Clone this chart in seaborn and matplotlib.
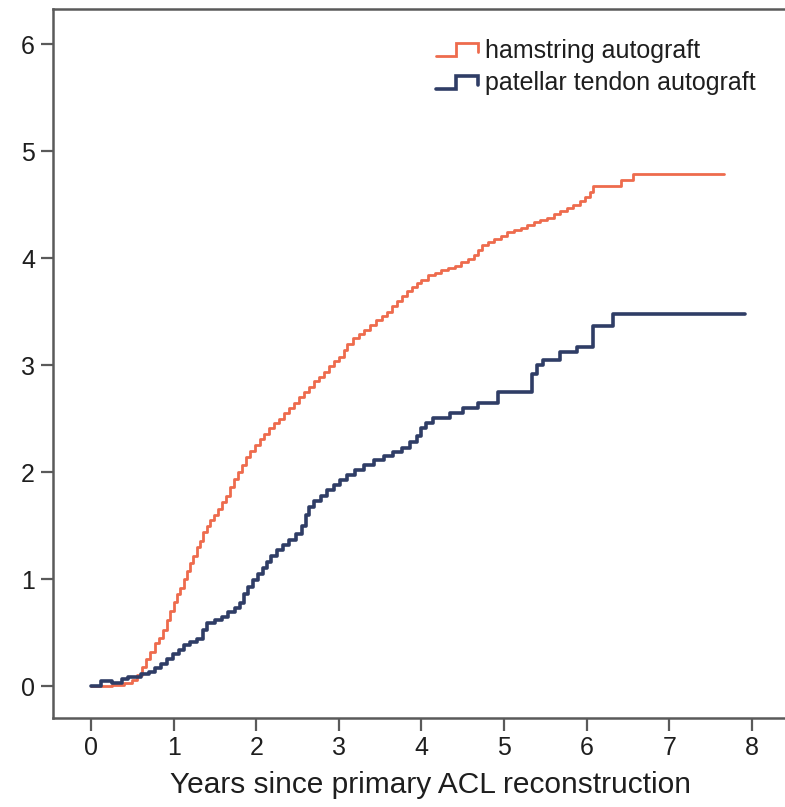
import numpy as np
import pandas as pd
import matplotlib
matplotlib.use('Agg')
import matplotlib.pyplot as plt
import seaborn as sns
from matplotlib.lines import Line2D
from matplotlib.legend_handler import HandlerBase

# step knots (years, cumulative value)
ham_t = [0.00, 0.25, 0.40, 0.50, 0.56, 0.62, 0.67, 0.72, 0.77, 0.82, 0.87, 0.92,
         0.96, 1.00, 1.04, 1.08, 1.12, 1.16, 1.20, 1.24, 1.28, 1.32, 1.36, 1.40,
         1.44, 1.49, 1.54, 1.58, 1.63, 1.68, 1.73, 1.78, 1.83, 1.88, 1.93, 1.98,
         2.04, 2.10, 2.16, 2.22, 2.28, 2.34, 2.40, 2.46, 2.52, 2.58, 2.64, 2.70,
         2.76, 2.82, 2.88, 2.94, 3.00, 3.06, 3.10, 3.17, 3.24, 3.31, 3.38, 3.45,
         3.52, 3.58, 3.64, 3.70, 3.76, 3.82, 3.88, 3.94, 4.00, 4.08, 4.16, 4.24,
         4.32, 4.40, 4.48, 4.56, 4.63, 4.68, 4.73, 4.80, 4.88, 4.96, 5.04, 5.12,
         5.20, 5.28, 5.36, 5.44, 5.52, 5.60, 5.68, 5.76, 5.84, 5.92, 5.98, 6.04,
         6.08, 6.42, 6.56, 7.66]
ham_v = [0.00, 0.01, 0.03, 0.06, 0.10, 0.18, 0.25, 0.32, 0.40, 0.45, 0.52, 0.62,
         0.70, 0.79, 0.86, 0.92, 1.00, 1.08, 1.15, 1.22, 1.30, 1.36, 1.44, 1.50,
         1.55, 1.60, 1.66, 1.72, 1.78, 1.86, 1.94, 2.00, 2.07, 2.14, 2.20, 2.25,
         2.31, 2.36, 2.41, 2.46, 2.50, 2.55, 2.60, 2.65, 2.70, 2.75, 2.80, 2.85,
         2.89, 2.94, 2.99, 3.04, 3.08, 3.14, 3.20, 3.25, 3.29, 3.33, 3.38, 3.42,
         3.46, 3.50, 3.55, 3.60, 3.65, 3.69, 3.73, 3.77, 3.80, 3.84, 3.86, 3.89,
         3.91, 3.93, 3.96, 3.99, 4.03, 4.08, 4.12, 4.15, 4.18, 4.21, 4.24, 4.26,
         4.28, 4.31, 4.34, 4.36, 4.38, 4.41, 4.44, 4.47, 4.50, 4.53, 4.57, 4.62,
         4.67, 4.73, 4.79, 4.79]

pat_t = [0.00, 0.12, 0.25, 0.38, 0.45, 0.60, 0.70, 0.78, 0.85, 0.92, 0.99, 1.06,
         1.13, 1.20, 1.28, 1.35, 1.40, 1.50, 1.58, 1.66, 1.74, 1.80, 1.85, 1.90,
         1.96, 2.02, 2.08, 2.13, 2.18, 2.25, 2.32, 2.40, 2.48, 2.55, 2.60, 2.64,
         2.70, 2.78, 2.86, 2.94, 3.02, 3.10, 3.20, 3.30, 3.42, 3.55, 3.66, 3.76,
         3.86, 3.94, 4.00, 4.06, 4.14, 4.35, 4.50, 4.69, 4.93, 5.34, 5.40, 5.47,
         5.68, 5.88, 6.08, 6.32, 7.92]
pat_v = [0.00, 0.05, 0.03, 0.07, 0.09, 0.11, 0.13, 0.17, 0.21, 0.25, 0.30, 0.34,
         0.38, 0.41, 0.44, 0.52, 0.59, 0.62, 0.65, 0.69, 0.73, 0.78, 0.86, 0.93,
         0.99, 1.05, 1.10, 1.16, 1.22, 1.27, 1.32, 1.37, 1.42, 1.50, 1.60, 1.67,
         1.73, 1.78, 1.83, 1.88, 1.93, 1.97, 2.02, 2.07, 2.11, 2.15, 2.19, 2.23,
         2.28, 2.34, 2.41, 2.46, 2.51, 2.55, 2.60, 2.65, 2.75, 2.92, 3.00, 3.05,
         3.12, 3.17, 3.37, 3.48, 3.48]

labels = ['hamstring autograft', 'patellar tendon autograft']
colors = ['#EE6B4D', '#2F3D66']
widths = [2.0, 2.6]

sns.set_style('white')
plt.rcParams['font.family'] = ['Liberation Sans', 'DejaVu Sans']

fig = plt.figure(figsize=(7.85, 8.07), dpi=100)
# the plot frame runs past the right edge of the picture
ax = fig.add_axes([0.0675, 0.110, 0.963, 0.879])

ham = pd.DataFrame({'t': ham_t, 'v': ham_v})
pat = pd.DataFrame({'t': pat_t, 'v': pat_v})
sns.lineplot(data=ham, x='t', y='v', ax=ax, color=colors[0], lw=widths[0],
             drawstyle='steps-post', estimator=None, sort=False)
sns.lineplot(data=pat, x='t', y='v', ax=ax, color=colors[1], lw=widths[1],
             drawstyle='steps-post', estimator=None, sort=False)

ax.set_xlim(-0.46, 8.69)
ax.set_ylim(-0.30, 6.33)
ax.set_xticks(range(0, 9))
ax.set_yticks(range(0, 7))
ax.set_xlabel('Years since primary ACL reconstruction', fontsize=21.5, labelpad=8,
              color='#1e1e1e')
ax.set_ylabel('')

spine_c = '#5a5a5a'
for s in ['left', 'bottom', 'top', 'right']:
    ax.spines[s].set_color(spine_c)
    ax.spines[s].set_linewidth(1.8)
ax.tick_params(axis='both', direction='out', length=9, width=1.6, color=spine_c,
               labelsize=18, labelcolor='#1e1e1e', pad=4,
               left=True, bottom=True)


class StepHandler(HandlerBase):
    def create_artists(self, legend, orig, xd, yd, w, h, fontsize, trans):
        x0 = -xd
        xs = [x0, x0 + w * 0.45, x0 + w * 0.45, x0 + w * 0.95, x0 + w * 0.95]
        ys = [h * 0.1 - yd, h * 0.1 - yd, h * 0.85 - yd, h * 0.85 - yd,
              h * 0.3 - yd]
        ln = Line2D(xs, ys, color=orig.get_color(), lw=orig.get_linewidth(),
                    solid_joinstyle='miter', transform=trans)
        return [ln]


handles = [Line2D([], [], color=c, lw=w) for c, w in zip(colors, widths)]
ax.legend(handles, labels, handler_map={Line2D: StepHandler()},
          loc='upper right', bbox_to_anchor=(0.991, 0.980),
          bbox_transform=fig.transFigure, frameon=False,
          fontsize=18, handlelength=1.75, handletextpad=0.2,
          labelspacing=0.35, labelcolor='#1e1e1e')

fig.savefig('out.png', dpi=100)
